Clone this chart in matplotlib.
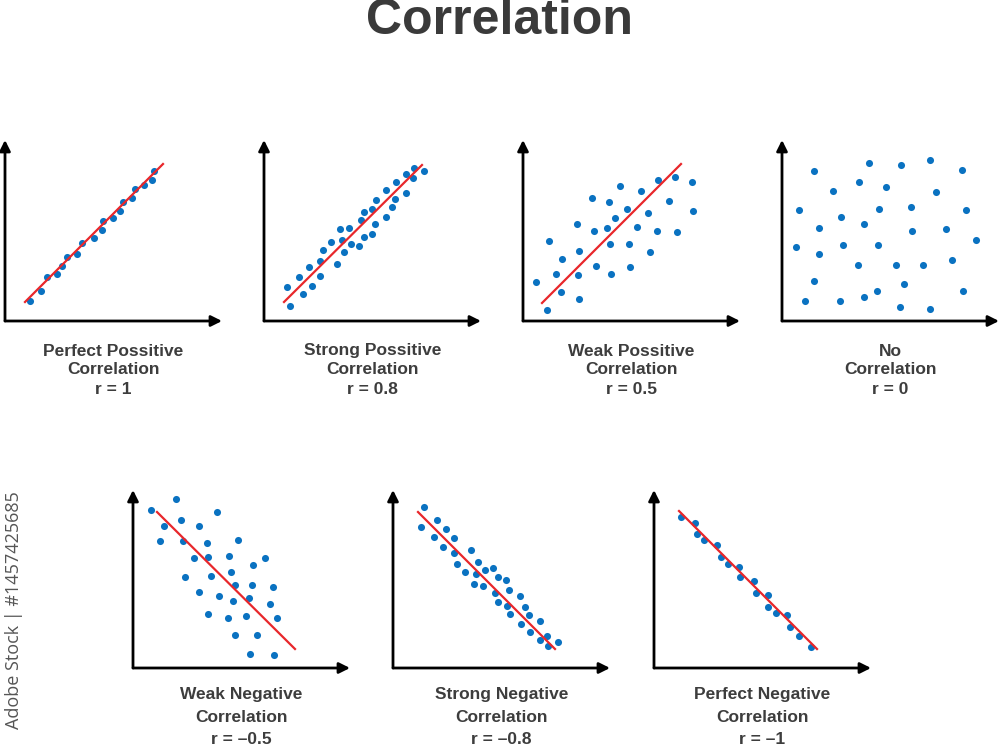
import numpy as np
import matplotlib.pyplot as plt

plt.rcParams['font.family'] = ['Liberation Sans', 'DejaVu Sans']

# scatter points (pixel units from each plot origin)
x_pp = [25, 36, 42, 52, 57, 62, 72, 77, 89, 97, 98, 108, 115, 118, 127, 130, 139, 147, 149]
y_pp = [20, 30, 44, 47, 55, 64, 67, 78, 83, 91, 100, 103, 110, 119, 123, 132, 136, 141, 150]
line_pp = ([20, 158], [19, 157])

x_sp = [23, 26, 35, 39, 45, 48, 56, 56, 59, 67, 73, 76, 78, 80, 85, 87, 95, 97, 100, 100,
        108, 108, 111, 112, 122, 122, 128, 131, 132, 142, 142, 149, 150, 160]
y_sp = [34, 15, 44, 27, 54, 35, 45, 60, 71, 79, 57, 92, 81, 69, 93, 77, 75, 101, 84, 109,
        112, 87, 97, 121, 104, 131, 114, 122, 139, 147, 128, 143, 153, 150]
line_sp = ([20, 158], [19, 156])

x_wp = [13, 24, 26, 33, 38, 39, 54, 55, 56, 56, 69, 71, 73, 84, 86, 87, 88, 92, 97, 104,
        106, 107, 114, 118, 125, 127, 134, 135, 146, 152, 154, 169, 170]
y_wp = [39, 11, 80, 47, 29, 62, 97, 46, 70, 22, 123, 90, 55, 93, 119, 77, 47, 103, 135, 112,
        77, 54, 94, 130, 108, 69, 90, 141, 120, 144, 89, 139, 110]
line_wp = ([19, 158], [18, 157])

x_no = [32, 87, 119, 148, 180, 77, 51, 104, 154, 17, 97, 129, 184, 59, 82, 37, 130, 164,
        194, 14, 61, 96, 37, 76, 114, 141, 170, 32, 122, 181, 23, 58, 82, 95, 118, 148]
y_no = [150, 158, 156, 161, 151, 139, 130, 134, 129, 111, 112, 114, 111, 104, 97, 93, 90, 92,
        81, 74, 76, 76, 67, 56, 56, 56, 61, 40, 37, 30, 20, 20, 24, 30, 14, 12]

x_wn = [18, 43, 84, 31, 48, 66, 27, 50, 74, 105, 61, 75, 96, 132, 120, 52, 78, 98, 102, 119,
        140, 66, 86, 100, 116, 137, 75, 95, 113, 144, 102, 124, 117, 141]
y_wn = [158, 169, 156, 142, 148, 142, 127, 127, 125, 128, 110, 111, 112, 110, 103, 91, 92, 96,
        83, 83, 81, 76, 72, 67, 70, 64, 54, 50, 52, 50, 33, 33, 14, 13]
line_wn = ([24, 162], [156, 19])

x_sn = [31, 28, 44, 41, 53, 50, 61, 61, 64, 78, 72, 85, 83, 92, 100, 81, 90, 105, 113, 102,
        116, 105, 114, 127, 117, 132, 136, 128, 147, 137, 154, 147, 155, 165]
y_sn = [161, 141, 148, 131, 139, 121, 130, 115, 104, 118, 96, 106, 94, 98, 100, 84, 82, 91,
        88, 75, 78, 66, 62, 72, 54, 61, 53, 44, 47, 36, 32, 28, 22, 26]
line_sn = ([25, 162], [156, 19])

x_pn = [27, 41, 43, 50, 63, 67, 74, 85, 86, 100, 102, 114, 114, 122, 133, 136, 145, 157]
y_pn = [151, 145, 134, 128, 123, 111, 104, 101, 91, 87, 75, 73, 61, 55, 53, 41, 32, 21]
line_pn = ([25, 163], [157, 19])

titles = [['Perfect Possitive', 'Correlation', 'r = 1'],
          ['Strong Possitive', 'Correlation', 'r = 0.8'],
          ['Weak Possitive', 'Correlation', 'r = 0.5'],
          ['No', 'Correlation', 'r = 0'],
          ['Weak Negative', 'Correlation', 'r = \u20130.5'],
          ['Strong Negative', 'Correlation', 'r = \u20130.8'],
          ['Perfect Negative', 'Correlation', 'r = \u20131']]

xs = [x_pp, x_sp, x_wp, x_no, x_wn, x_sn, x_pn]
ys = [y_pp, y_sp, y_wp, y_no, y_wn, y_sn, y_pn]
lines = [line_pp, line_sp, line_wp, None, line_wn, line_sn, line_pn]

W, H = 1000, 745
# plot origins in pixels (left, y from top), axis lengths
origins = [(5, 321), (264, 321), (523, 321), (782, 321), (133, 668), (393, 668), (654, 668)]
heights = [181, 181, 181, 181, 178, 178, 178]
aw = 217
label_y = [[351, 370, 389]] * 4 + [[694, 717, 739]] * 3

blue = '#0a72c1'
red = '#e8272b'
txt = '#3d3d3d'

fig = plt.figure(figsize=(10, 7.45), dpi=100)

for i in range(7):
    x0, y0 = origins[i]
    h = heights[i]
    ax = fig.add_axes([x0 / W, (H - y0) / H, aw / W, h / H])
    ax.set_xlim(0, aw)
    ax.set_ylim(0, h)
    ax.axis('off')
    ax.annotate('', xy=(1, 0), xytext=(0, 0), xycoords='axes fraction',
                arrowprops=dict(arrowstyle='-|>', lw=2, color='black', mutation_scale=16,
                                shrinkA=0, shrinkB=0))
    ax.annotate('', xy=(0, 1), xytext=(0, 0), xycoords='axes fraction',
                arrowprops=dict(arrowstyle='-|>', lw=2, color='black', mutation_scale=16,
                                shrinkA=0, shrinkB=0))
    if lines[i] is not None:
        ax.plot(lines[i][0], lines[i][1], color=red, lw=1.6, zorder=3)
    ax.scatter(xs[i], ys[i], s=26, color=blue, zorder=2, clip_on=False, linewidths=0)
    for t, ly in zip(titles[i], label_y[i]):
        fig.text((x0 + aw / 2) / W, (H - ly) / H, t, ha='center', va='center',
                 fontsize=12.5, fontweight='bold', color=txt)

fig.text(0.5, (H - 34) / H, 'Correlation', ha='center', va='baseline',
         fontsize=36, fontweight='bold', color='#3a3a3a')
fig.text(14 / W, (H - 610) / H, 'Adobe Stock | #1457425685', rotation=90,
         ha='center', va='center', fontsize=13, color='#555555', family=['Open Sans', 'DejaVu Sans'])

fig.savefig('out.png', dpi=100)
